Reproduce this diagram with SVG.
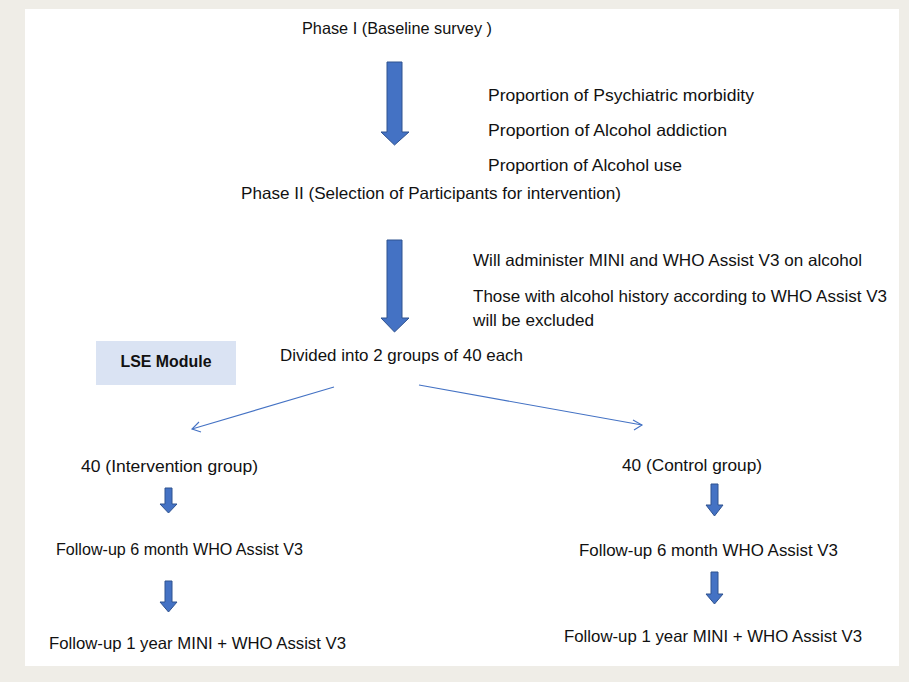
<svg xmlns="http://www.w3.org/2000/svg" width="909" height="682" viewBox="0 0 909 682">
<style>
text{font-family:"Liberation Sans",Arial,sans-serif;font-size:16.5px;fill:#111}
.b{font-weight:bold;font-size:17px}
.fat{fill:#4472c4;stroke:#2f528f;stroke-width:1}
.thin{stroke:#4472c4;stroke-width:1.1;fill:none}
</style>
<rect x="0" y="0" width="909" height="682" fill="#efede7"/>
<rect x="25" y="9" width="874" height="657" fill="#ffffff"/>
<g id="phase1"><text x="302" y="34" textLength="190" lengthAdjust="spacingAndGlyphs">Phase I (Baseline survey )</text></g>
<g id="proportions">
<text x="488" y="101" textLength="266" lengthAdjust="spacingAndGlyphs">Proportion of Psychiatric morbidity</text>
<text x="488" y="136" textLength="239" lengthAdjust="spacingAndGlyphs">Proportion of Alcohol addiction</text>
<text x="488" y="171" textLength="194" lengthAdjust="spacingAndGlyphs">Proportion of Alcohol use</text>
</g>
<g id="phase2"><text x="241" y="199" textLength="380" lengthAdjust="spacingAndGlyphs">Phase II (Selection of Participants for intervention)</text></g>
<g id="admin">
<text x="473" y="266" textLength="389" lengthAdjust="spacingAndGlyphs">Will administer MINI and WHO Assist V3 on alcohol</text>
<text x="473" y="302" textLength="414" lengthAdjust="spacingAndGlyphs">Those with alcohol history according to WHO Assist V3</text>
<text x="473" y="326" textLength="121" lengthAdjust="spacingAndGlyphs">will be excluded</text>
</g>
<g id="lse"><rect x="96" y="341" width="140" height="44" fill="#dae3f3"/><text class="b" x="166" y="363" text-anchor="middle" dominant-baseline="middle" textLength="91" lengthAdjust="spacingAndGlyphs">LSE Module</text></g>
<g id="divided"><text x="280" y="361" textLength="243" lengthAdjust="spacingAndGlyphs">Divided into 2 groups of 40 each</text></g>
<g id="intervention"><text x="81" y="472" textLength="177" lengthAdjust="spacingAndGlyphs">40 (Intervention group)</text></g>
<g id="control"><text x="622" y="471" textLength="140" lengthAdjust="spacingAndGlyphs">40 (Control group)</text></g>
<g id="fu6-left"><text x="56" y="555" textLength="247" lengthAdjust="spacingAndGlyphs">Follow-up 6 month WHO Assist V3</text></g>
<g id="fu6-right"><text x="579" y="556" textLength="259" lengthAdjust="spacingAndGlyphs">Follow-up 6 month WHO Assist V3</text></g>
<g id="fu1-left"><text x="49" y="649" textLength="297" lengthAdjust="spacingAndGlyphs">Follow-up 1 year MINI + WHO Assist V3</text></g>
<g id="fu1-right"><text x="564" y="642" textLength="298" lengthAdjust="spacingAndGlyphs">Follow-up 1 year MINI + WHO Assist V3</text></g>
<g id="connectors">
<polygon class="fat" points="387,62 402,62 402,132 409,132 394.5,145 381,132 387,132"/>
<polygon class="fat" points="387,240 402,240 402,318 409,318 394.5,332 381,318 387,318"/>
<polygon class="fat" points="165,488 172,488 172,504 177,504 168.5,513 160,504 165,504"/>
<polygon class="fat" points="165,581 172,581 172,602 177,602 168.5,612 160,602 165,602"/>
<polygon class="fat" points="711,484 718,484 718,505 723,505 714.5,516 706,505 711,505"/>
<polygon class="fat" points="711,572 718,572 718,594 723,594 714.5,604 706,594 711,594"/>
<line class="thin" x1="334" y1="387" x2="192" y2="429"/>
<polyline class="thin" points="199,422 192,429 201,432"/>
<line class="thin" x1="419" y1="385" x2="642" y2="425"/>
<polyline class="thin" points="633,420 642,425 634,430"/>
</g>
</svg>
